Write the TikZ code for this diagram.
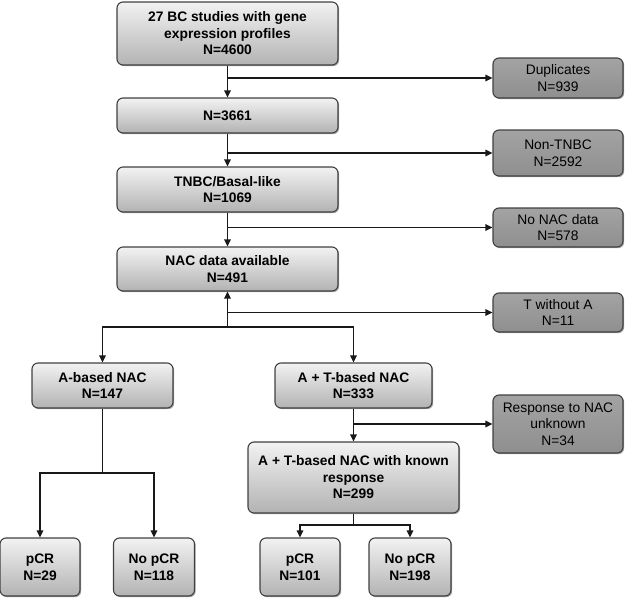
\documentclass[tikz,border=0pt]{standalone}
\usepackage{fontspec}
\setmainfont{Liberation Sans}
\usetikzlibrary{arrows.meta,shadows}
\tikzset{
  boxbase/.style={draw=black!75, line width=1.1pt, rounded corners=6pt, align=center, inner sep=0pt,
    drop shadow={shadow xshift=1.2pt, shadow yshift=-1.2pt, opacity=0.35, fill=black}},
  mainbox/.style={boxbase, top color=black!5, bottom color=black!30,
    font=\bfseries\fontsize{13.8}{16.5}\selectfont},
  exbox/.style={boxbase, top color=black!36, bottom color=black!44,
    font=\fontsize{13.8}{16.5}\selectfont},
  conn/.style={line width=1.2pt, draw=black!90},
  arr/.style={conn, -{Triangle[length=7pt,width=6.5pt]}}
}
\begin{document}
\begin{tikzpicture}[x=1pt,y=-1pt]
\useasboundingbox (0,0) rectangle (625,600);
% main column
\node[mainbox, minimum width=221pt, minimum height=63pt] (b1) at (227.5,33.5) {27 BC studies with gene\\expression profiles\\N=4600};
\node[mainbox, minimum width=221pt, minimum height=35pt] (b2) at (227.5,115.5) {N=3661};
\node[mainbox, minimum width=221pt, minimum height=45pt] (b3) at (227.5,189.5) {TNBC/Basal-like\\N=1069};
\node[mainbox, minimum width=221pt, minimum height=44pt] (b4) at (227.5,269) {NAC data available\\N=491};
\node[mainbox, minimum width=141pt, minimum height=45pt] (aA) at (102.5,385.5) {A-based NAC\\N=147};
\node[mainbox, minimum width=157pt, minimum height=45pt] (aAT) at (353.5,385.5) {A + T-based NAC\\N=333};
\node[mainbox, minimum width=211pt, minimum height=71pt] (known) at (353.5,477.5) {A + T-based NAC with known\\response\\N=299};
\node[mainbox, minimum width=80pt, minimum height=58pt] (p1) at (40,567) {pCR\\N=29};
\node[mainbox, minimum width=81pt, minimum height=58pt] (np1) at (154,567) {No pCR\\N=118};
\node[mainbox, minimum width=80pt, minimum height=58pt] (p2) at (300,567) {pCR\\N=101};
\node[mainbox, minimum width=82pt, minimum height=58pt] (np2) at (410,567) {No pCR\\N=198};
% exclusions
\node[exbox, minimum width=130pt, minimum height=40pt] (dup) at (558,78) {Duplicates\\N=939};
\node[exbox, minimum width=130pt, minimum height=46pt] (ntn) at (558,153) {Non-TNBC\\N=2592};
\node[exbox, minimum width=130pt, minimum height=39pt] (nonac) at (558,227.5) {No NAC data\\N=578};
\node[exbox, minimum width=130pt, minimum height=39pt] (twa) at (558,312.5) {T without A\\N=11};
\node[exbox, minimum width=130pt, minimum height=58pt] (resp) at (558,424) {Response to NAC\\unknown\\N=34};
% connectors
\coordinate (j1) at (b1.south |- dup.west);
\draw[arr] (b1.south) -- (b2.north);
\draw[arr] (j1) -- (dup.west);
\coordinate (j2) at (b2.south |- ntn.west);
\draw[arr] (b2.south) -- (b3.north);
\draw[arr] (j2) -- (ntn.west);
\coordinate (j3) at (b3.south |- nonac.west);
\draw[arr] (b3.south) -- (b4.north);
\draw[arr] (j3) -- (nonac.west);
\coordinate (j4) at (227.5,327);
\coordinate (j4b) at (b4.south |- twa.west);
\draw[arr] (j4) -- (b4.south);
\draw[arr] (j4b) -- (twa.west);
\draw[arr] (j4) -| (aA.north);
\draw[arr] (j4) -| (aAT.north);
\coordinate (j5) at (102.5,473);
\draw[conn] (aA.south) -- (j5);
\draw[arr] (j5) -| (p1.north);
\draw[arr] (j5) -| (np1.north);
\coordinate (j6) at (aAT.south |- resp.west);
\draw[arr] (aAT.south) -- (known.north);
\draw[arr] (j6) -- (resp.west);
\coordinate (j7) at (353.5,525);
\draw[conn] (known.south) -- (j7);
\draw[arr] (j7) -| (p2.north);
\draw[arr] (j7) -| (np2.north);
\end{tikzpicture}
\end{document}
